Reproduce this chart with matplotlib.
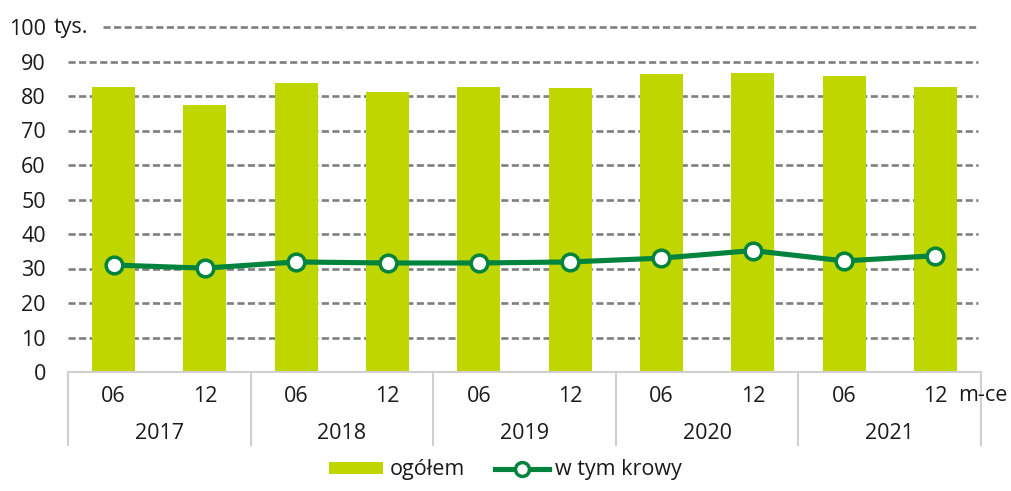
import matplotlib.pyplot as plt
from matplotlib.patches import Patch
from matplotlib.lines import Line2D

plt.rcParams['font.family'] = ['Open Sans', 'DejaVu Sans']

# data (tys. sztuk)
months = ['06', '12', '06', '12', '06', '12', '06', '12', '06', '12']
years = ['2017', '2018', '2019', '2020', '2021']
ogolem = [82.6, 77.4, 83.8, 81.2, 82.6, 82.3, 86.4, 86.8, 85.7, 82.6]
krowy = [31.0, 30.1, 31.9, 31.6, 31.6, 31.9, 33.0, 35.2, 32.2, 33.7]
yticks = [0, 10, 20, 30, 40, 50, 60, 70, 80, 90, 100]

bar_col = '#bfd600'
line_col = '#00843d'
grid_col = '#7f7f7f'
txt_col = '#1a1a1a'
fs = 15.5

fig = plt.figure(figsize=(10.11, 4.91), dpi=100, facecolor='white')
ax = fig.add_axes([68/1011, 119/491, 913/1011, 345/491])

x = list(range(len(ogolem)))
ax.bar(x, ogolem, width=0.47, color=bar_col, zorder=2)
ax.plot(x, krowy, color=line_col, lw=3.7, marker='o', ms=12,
        mfc='white', mec=line_col, mew=2.5, zorder=4)

ax.set_xlim(-0.5, 9.5)
ax.set_ylim(0, 100)

# dashed gridlines (the 100 one starts after the "tys." label)
for v in yticks[1:]:
    xmin = 35/913 if v == 100 else 0
    ax.axhline(v, xmin=xmin, xmax=0.997, color=grid_col, lw=1.9,
               ls=(0, (2.7, 1.3)), zorder=1, clip_on=False)

for s in ['top', 'right', 'left']:
    ax.spines[s].set_visible(False)
ax.spines['bottom'].set_color('#d0d0d0')
ax.spines['bottom'].set_linewidth(1.5)

ax.set_yticks(yticks)
ax.set_yticklabels([str(v) for v in yticks])
ax.tick_params(axis='y', length=0, pad=16, labelsize=fs, labelcolor=txt_col)
ax.set_xticks(x)
ax.set_xticklabels(months)
ax.tick_params(axis='x', length=0, pad=10, labelsize=fs, labelcolor=txt_col)

tr = ax.get_xaxis_transform()
# group separators below the axis
for i in range(len(years) + 1):
    ax.plot([i*2 - 0.5, i*2 - 0.5], [0, -0.212], transform=tr, color='#d0d0d0',
            lw=1.5, clip_on=False)
for i, yr in enumerate(years):
    ax.text(i*2 + 0.5, -0.177, yr, transform=tr, ha='center', va='center',
            fontsize=fs, color=txt_col)

ax.text(9.25, -0.067, 'm-ce', transform=tr, ha='left', va='center',
        fontsize=fs, color=txt_col)
ax.text(-14/913, 1.0, 'tys.', transform=ax.transAxes, ha='left', va='center',
        fontsize=fs, color=txt_col)

handles = [Patch(facecolor=bar_col, edgecolor='none'),
           Line2D([], [], color=line_col, lw=3.7, marker='o', ms=10,
                  mfc='white', mec=line_col, mew=2.5)]
fig.legend(handles, ['ogółem', 'w tym krowy'], loc='center',
           bbox_to_anchor=(0.5, 21/491), ncol=2, frameon=False, fontsize=fs,
           handlelength=2.5, handleheight=0.45, handletextpad=0.3,
           columnspacing=1.4, labelcolor=txt_col)

fig.savefig('out.png', dpi=100, facecolor='white')
